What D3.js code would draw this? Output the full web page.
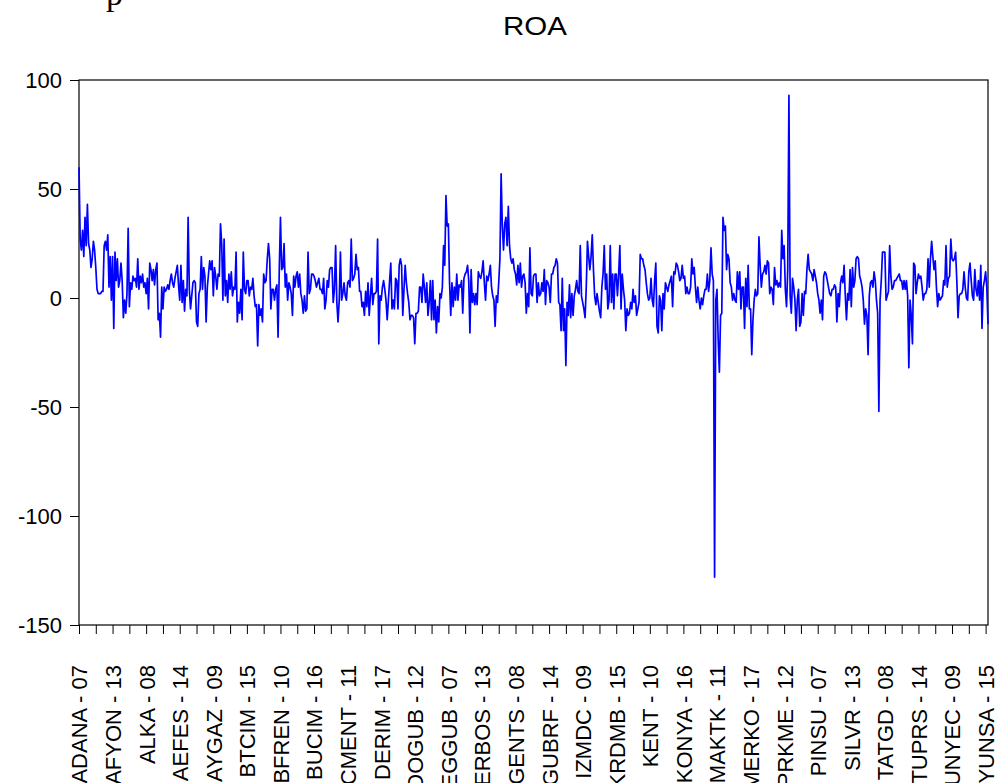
<!DOCTYPE html>
<html>
<head>
<meta charset="utf-8">
<script src="https://cdn.jsdelivr.net/npm/d3@7"></script>
<style>
  body { margin: 0; background: #fff; }
  svg { display: block; }
  text { font-family: "Liberation Sans", Arial, sans-serif; fill: #000; }
</style>
</head>
<body>
<div class="chart"></div>
<script>
// Set H/W/M
const svgWidth = 998;
const svgHeight = 783;

const margin = {
  top: 80,
  right: 10,
  bottom: 158,
  left: 79
};

const width = svgWidth - margin.left - margin.right;
const height = svgHeight - margin.top - margin.bottom;

// firm - year labels shown every 28 observations
const tickLabels = [
  "ADANA - 07", "AFYON - 13", "ALKA - 08", "AEFES - 14", "AYGAZ - 09",
  "BTCIM - 15", "BFREN - 10", "BUCIM - 16", "CMENT - 11", "DERIM - 17",
  "DOGUB - 12", "EGGUB - 07", "ERBOS - 13", "GENTS - 08", "GUBRF - 14",
  "IZMDC - 09", "KRDMB - 15", "KENT - 10", "KONYA - 16", "MAKTK - 11",
  "MERKO - 17", "PRKME - 12", "PINSU - 07", "SILVR - 13", "TATGD - 08",
  "TUPRS - 14", "UNYEC - 09", "YUNSA - 15"
];

const yTicks = [-150, -100, -50, 0, 50, 100];

const roa = [
  60, 27, 22, 31, 19, 37, 24, 43, 25, 22, 14, 18, 26, 22, 14, 4, 2, 2, 2, 3,
  3, 24, 26, 22, 29, 5, 19, -1, 19, -14, 21, 8, 18, 5, 8, 16, 8, -9, -1, -7,
  2, 32, -4, 7, 4, 10, 8, 9, 5, 18, 4, 10, 7, 11, 5, 7, 2, 9, -5, 16,
  13, 8, 13, 6, 13, 16, -10, -7, -18, 5, -5, 5, 3, 4, 6, 4, 8, 11, 7, 5,
  9, 12, 15, 6,
  -1, 15, -2, 8, -6, 4, 1, 37, 4, -5, 1, 7, 8, 7, -11, -13, 2, 4, 19, 4,
  14, 10, -11, 5, 11, 17, 13, 17, 1, 14, 10, 4, 11, 10, 34, 25, -1, 27, 1, 8,
  -2, 11, 4, 12, 1, 5, 4, 21, -11, -2, -7, 4, -10, 21, 4, 2, 8, 8, 1, 5,
  4, 9, 1, -4, -3, -22, -3, -8, -5, -11, 11, 7, 8, 18, 25, 18, -5, 4, 4, -1,
  4, 6, -18, 13, 37, 13, 14, 25, 5, 11, -1, 7, 5, 2, -8, 10, 5, 10, 12, 5,
  11, 2, -1, -7, 1, -6, -5, 21, 2, 4, 11, 11, 10, 8, 5, 7, 9, 4, 4, 2,
  9, -5, -1, 8, 5, 13, 14, 14, -2, 4, 24, -2, -11, -1, 21, -1, 2, 7, 1, -1,
  7, 8, 5, 27, 8, 9, 11, 20, 13, 14, 3, 3, -4, -2, -8, 3, -4, 7, -8, 1,
  9, -3, 2, 2, 3, 27, -21, 1, -1, 5, 8, 4, -1, -10, -1, 8, 16, -5, -1, -5,
  9, 8, -5, 15, 18, 15, -8, 4, 15, 7, 2, -2, -10, -8, -8, -9, -21, -7, -7, -6,
  5,
  5, -2, 11, 5, -2, 7, -8, -2, 8, -10, 8, -10, -1, -16, -4, -11, 2, 0, 5, 24,
  15, 47, 33, 34, 7, -8, 7, -4, 5, -1, 11, -1, 6, 5, 8, -7, 9, 11, 12, 15,
  8, -16, 13, -2, 2, -3, 2, -3, 12, 10, 9, 12, 17, 7, -1, 10, 8, 11, 15, 5,
  1, -1, -13, 1, -2, 7, 18, 57, 33, 22, 34, 37, 24, 42, 24, 18, 16, 18, 13, 11,
  6, 15, 7, 16, 5, 10, 11, 7, -7, 2, -4, 23, 2, 1, 10, 11, 11, -2, 7, 1,
  2, 7, 3, 13, -3, 8, 7, 5, -2, 11, 11, 14, 15, 18, 16, -2, -3, -15, 9, -15,
  -5, -31, -2, -8, 6, -9, 2, -8, 1, 4, 8, 3, 2, 24, 1, -2, -5, -9, 5, 26,
  19, 13, 19, 29, 13, 1, -3, 2, -2, -6, -9, 5, 11, 24, 4, 11, -5, -1, 24, -2,
  11, -5, 11, 11, 1, 11, 24, -5, 11, 4, -1, -15, -5, -8, -7, -2, -5, 4, -2, 1,
  -8, -5, -2, 20, 18, 18, 15, 13, 7, 2, -1, 0, 9, -1, -4, 8, 16, -13, -16, 1,
  -1, -15, 2, -5, 7, 5, 3, 6, 8, 10, -4, 12, 11, 16, 15, 12, 8, 9, 15, 9,
  10, 2, 5, 2, 2, 5, 18, 11, 14, 5, -2, 5, -1, -5, 0, -3, 1, 4, 4, 11,
  3, 8, 23, 11, 8, -128, -1, 4, -19, -34, -8, -7, 37, 31, 33, 13, 20, 18, 7, 5,
  -1, 2, -1, -2, 12, 4, 12, -5, 5, 5, -14, 9, -4, 15, -5, -5, -26, -10, -1, 4,
  1, 2, 28, 15, 5, 11, 12, 15, 11, 17, 16, 2, 5, 4, -3, 14, 6, 8, 5, 7,
  5, 31, 18, 24, 4, -4, 13, 93, 1, -7, 9, 5, -1, -15, -1, 4, -13, -11, 2, -8,
  3, 2, 13, 20, 13, 12, 11, 8, 13, 10, 7, 2, -1, -7, -1, -10, 10, 12, 11, 8,
  5, 2, 1, 4, 4, 6, 5, -11, 2, -4, 7, 10, 7, 15, 1, -10, 2, -1, 13, -4,
  14, 5, 8, 18, 19, 18, 10, 8, 5, -1, -12, -5, -8, -26, 1, 7, 8, 5, 12, 8,
  -1, -7, -52, -1, 8, 21, 21, 21, -1, 1, 3, 24, 10, 4, 5, 8,
  8, 9, 10, 11, 8, 8, 4, 8, 4, 8, 1, -32, -1, -8, -21, 16, 15, 2, 7, 11,
  9, 10, 5, -1, 2, 2, 4, 18, 5, 18, 26, 19, 13, 17, 5, -4, 2, -1, 0, 1,
  8, 6, 24, 5, 9, 10, 27, 18, 17, 18, 21, 8, -9, 1, 2, 2, 4, 12, 5, 0,
  -1, 12, 16, 8, 1, -1, 13, 4, 1, 8, -1, 15, -14, 5, 8, 12, 5, -12
];

const svg = d3
  .select(".chart")
  .append("svg")
  .attr("width", svgWidth)
  .attr("height", svgHeight);

// cut-off caption letter at the very top of the page
svg.append("text")
  .attr("x", 106)
  .attr("y", 5)
  .style("font-family", "'Liberation Serif', 'Times New Roman', serif")
  .style("font-size", "34px")
  .text("p");

// Append an SVG group
const chartGroup = svg.append("g")
  .attr("transform", `translate(${margin.left}, ${margin.top})`);

// scales
const xLinearScale = d3.scaleLinear()
  .domain([0, roa.length - 1])
  .range([0, width]);

const yLinearScale = d3.scaleLinear()
  .domain([-150, 100])
  .range([height, 0]);

// axes
const leftAxis = d3.axisLeft(yLinearScale)
  .tickValues(yTicks)
  .tickSize(9)
  .tickSizeOuter(0)
  .tickPadding(8)
  .tickFormat(d => String(d));

const bottomAxis = d3.axisBottom(xLinearScale)
  .tickValues(d3.range(0, roa.length, 14))
  .tickSize(9)
  .tickSizeOuter(0)
  .tickFormat(d => d % 28 === 0 ? tickLabels[d / 28] : "");

const yAxis = chartGroup.append("g")
  .call(leftAxis);

yAxis.selectAll("text")
  .style("font-size", "22px");

const xAxis = chartGroup.append("g")
  .attr("transform", `translate(0, ${height})`)
  .call(bottomAxis);

xAxis.selectAll("text")
  .attr("transform", "rotate(-90)")
  .attr("text-anchor", "end")
  .attr("x", -40)
  .attr("y", 0)
  .attr("dy", "0.36em")
  .style("font-size", "22px");

chartGroup.selectAll(".tick line").attr("stroke", "#000");
chartGroup.selectAll(".domain").remove();

// frame
chartGroup.append("rect")
  .attr("x", 0)
  .attr("y", 0)
  .attr("width", width)
  .attr("height", height)
  .attr("fill", "none")
  .attr("stroke", "#000")
  .attr("stroke-width", 1.2);

// ROA line
const roaLine = d3.line()
  .x((d, i) => xLinearScale(i))
  .y(d => yLinearScale(d));

chartGroup.append("path")
  .datum(roa)
  .attr("fill", "none")
  .attr("stroke", "#0000ff")
  .attr("stroke-width", 1.7)
  .attr("stroke-linejoin", "round")
  .attr("d", roaLine);

// title
svg.append("text")
  .attr("x", 535)
  .attr("y", 35)
  .attr("text-anchor", "middle")
  .attr("textLength", 64)
  .attr("lengthAdjust", "spacingAndGlyphs")
  .style("font-size", "25px")
  .text("ROA");
</script>
</body>
</html>
